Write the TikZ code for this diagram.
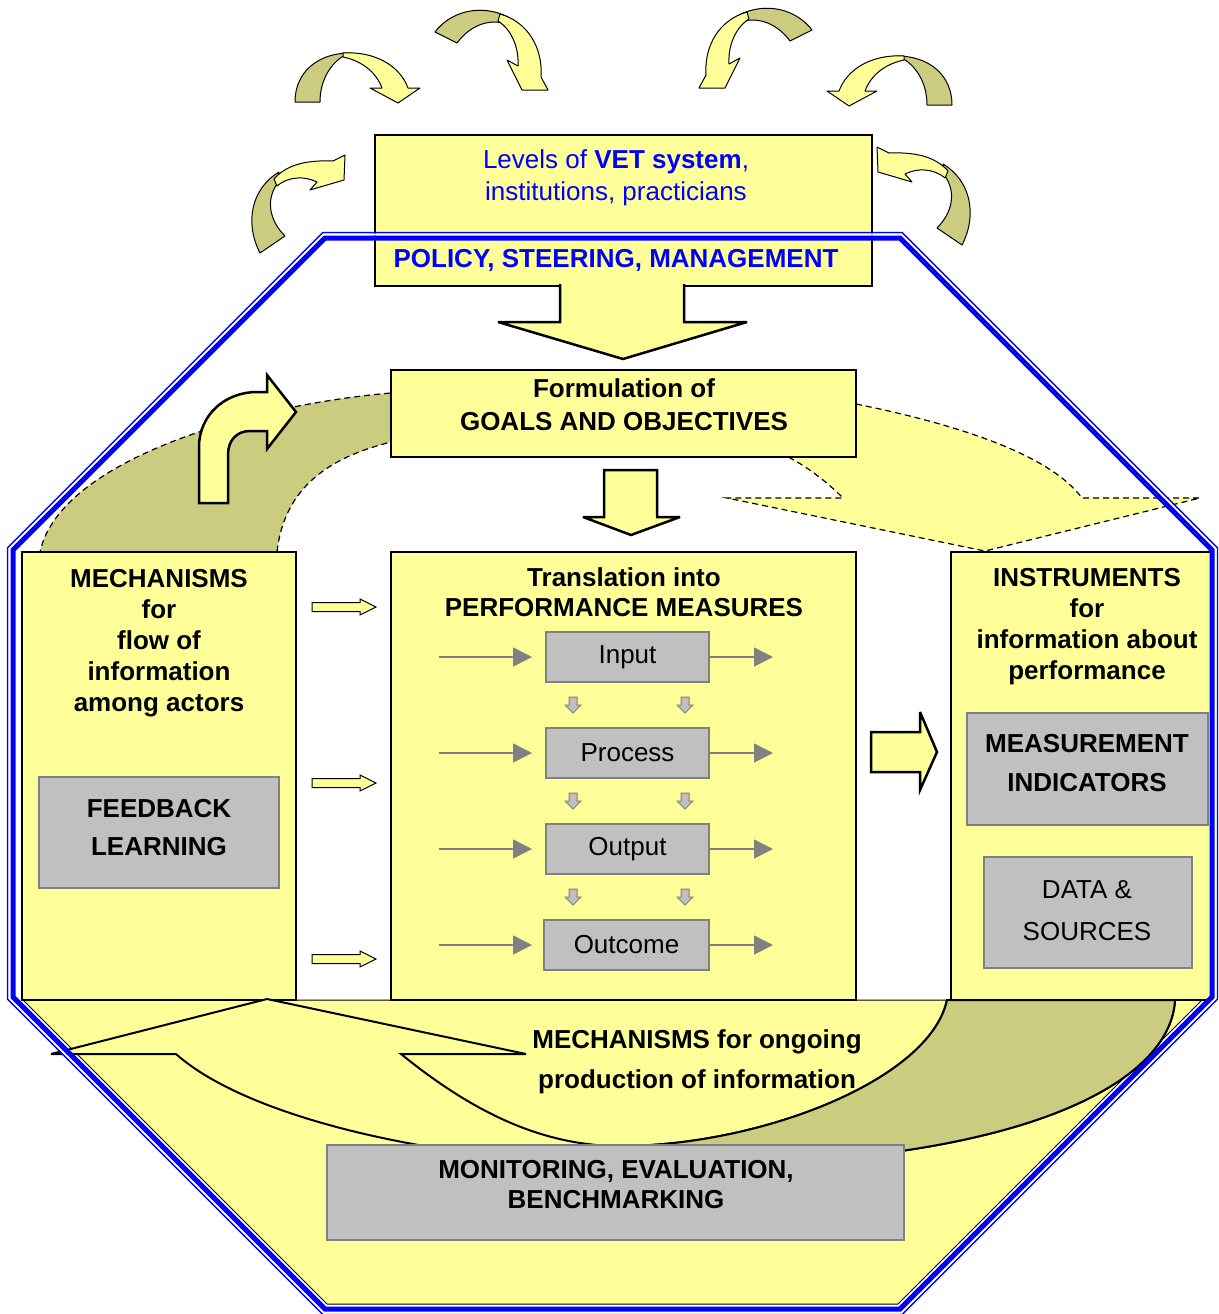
\documentclass[tikz,border=0pt]{standalone}
\usepackage{fontspec}
\setmainfont{Liberation Sans}
\usetikzlibrary{arrows.meta}
\definecolor{ylw}{RGB}{255,255,153}
\definecolor{olv}{RGB}{204,204,128}
\definecolor{gbox}{RGB}{192,192,192}
\definecolor{gline}{RGB}{128,128,128}
\definecolor{vblue}{RGB}{0,0,255}
\newcommand\bx[7]{\node[#2,anchor=north west,outer sep=0pt,inner sep=0pt,minimum width={(#5)-(#3)},minimum height={(#6)-(#4)}] (#1) at (#3,#4) {#7};}
\newcommand\setoct[1]{\pgfmathsetmacro\oL{13-#1}\pgfmathsetmacro\oR{1212+#1}\pgfmathsetmacro\oT{238-#1}\pgfmathsetmacro\oB{1309+#1}\pgfmathsetmacro\oC{312+0.586*#1}}
\newcommand\octp{({\oL+\oC},\oT) -- ({\oR-\oC},\oT) -- (\oR,{\oT+\oC}) -- (\oR,{\oB-\oC}) -- ({\oR-\oC},\oB) -- ({\oL+\oC},\oB) -- (\oL,{\oB-\oC}) -- (\oL,{\oT+\oC}) -- cycle}
\begin{document}
\begin{tikzpicture}[x=1pt,y=-1pt,line join=miter,
 box/.style={draw=black,line width=1.2pt,fill=ylw},
 topbx/.style={draw=black,line width=2.5pt,fill=ylw},
 graybox/.style={draw=gline,line width=1.5pt,fill=gbox},
 procbox/.style={draw=gline,line width=2.5pt,fill=gbox,font=\fontsize{26}{31}\selectfont},
 txt/.style={font=\fontsize{26}{#1}\selectfont,align=center,anchor=base,inner sep=0pt},
 txt/.default=31,
 btxt/.style={txt=#1,font=\fontsize{26}{#1}\selectfont\bfseries},
 btxt/.default=31,
 blk/.style={fill=ylw,draw=black,line width=2.5pt,miter limit=5},
 sblk/.style={fill=ylw,draw=black,line width=1pt},
 dsh/.style={draw=black,line width=1.2pt,dash pattern=on 6pt off 4pt},
 garrow/.style={draw=gline,line width=1.5pt,-{Triangle[length=19pt,width=19pt]}},
 rib/.style={draw=black,line width=2pt,miter limit=5},
 crv/.style={draw=black,line width=1pt,line join=round},
 gdown/.pic={\filldraw[fill=gbox,draw=gline,line width=1pt] (-4,-8) -- (4,-8) -- (4,0) -- (8,0) -- (0,8) -- (-8,0) -- (-4,0) -- cycle;},
 yright/.pic={\path[sblk] (-32,-4.5) -- (16,-4.5) -- (16,-8) -- (32,0) -- (16,8) -- (16,4.5) -- (-32,4.5) -- cycle;},
 curvA/.pic={
  \path[crv,fill=olv] (295,102) .. controls (295,72) and (318,53) .. (350,53) .. controls (335,58) and (320,76) .. (320,102) -- cycle;
  \path[crv,fill=ylw] (343,53) .. controls (375,51) and (400,66) .. (408,88) -- (420,88) -- (398,103) -- (370,88) -- (382,88) .. controls (376,72) and (362,61) .. (343,57) -- cycle;},
 curvB/.pic={
  \path[crv,fill=olv] (435,32) .. controls (450,12) and (480,3) .. (508,17) -- (503,23) .. controls (485,19) and (468,28) .. (457,43) -- cycle;
  \path[crv,fill=ylw] (500,14) .. controls (528,22) and (543,48) .. (541,77) -- (548,90) -- (522,90) -- (507,60) -- (518,66) .. controls (519,48) and (512,30) .. (498,21) -- cycle;},
 curvE/.pic={
  \path[crv,fill=olv] (260,253) .. controls (244,222) and (252,188) .. (279,172) -- (277,184) .. controls (266,200) and (269,220) .. (285,236) -- cycle;
  \path[crv,fill=ylw] (274,179) .. controls (287,164) and (308,160) .. (333,161) -- (345,155) -- (344,180) -- (310,190) -- (317,182) .. controls (305,176) and (289,176) .. (277,186) -- cycle;},
]
\useasboundingbox (0,0) rectangle (1218,1314);
\fill[white] (0,0) rectangle (1218,1314);

% bottom yellow field inside the octagon
\path[draw=black,line width=1pt,fill=ylw] (23,1000) -- (1202,1000) -- (898,1304) -- (327,1304) -- cycle;

% olive band (left) and dashed yellow arrow (right) behind the boxes
\path[dsh,fill=olv] (400,393) -- (391,393) .. controls (250,405) and (60,460) .. (40,552) -- (277,552) .. controls (285,480) and (340,455) .. (391,442) -- (400,442) -- cycle;
\path[dsh,fill=ylw] (856,404) .. controls (960,425) and (1050,455) .. (1082,498) -- (1200,498) -- (985,551) -- (727,498) -- (843,498) .. controls (830,485) and (810,468) .. (788,457) -- (788,404) -- cycle;

% curved arrows around the top
\pic {curvA};
\pic {curvB};
\pic {curvE};
\begin{scope}[shift={(1247,3)},xscale=-1]\pic[transform shape] {curvA};\end{scope}
\begin{scope}[shift={(1247,-2)},xscale=-1]\pic[transform shape] {curvB};\end{scope}
\begin{scope}[shift={(1222,-8)},xscale=-1]\pic[transform shape] {curvE};\end{scope}

% top box and its arrow
\bx{topbox}{topbx}{375}{135}{872}{286}{}
\path[blk] (560,284) -- (560,322) -- (498,322) -- (623,359) -- (747,322) -- (684,322) -- (684,284);

% goals
\bx{goals}{box}{391}{370}{856}{457}{}
\path[blk] (604,470) -- (657,470) -- (657,517) -- (680,517) -- (631,535) -- (583,517) -- (604,517) -- cycle;
\path[blk] (199,503) -- (199,447) .. controls (199,415) and (225,392) .. (257,392) -- (267,392) -- (267,375) -- (296,412) -- (267,449) -- (267,431) -- (250,431) .. controls (237,431) and (228,440) .. (228,455) -- (228,503) -- cycle;

% three columns
\bx{mech}{box}{22}{552}{296}{1000}{}
\bx{trans}{box}{391}{552}{856}{1000}{}
\bx{instr}{box}{951}{552}{1213}{1000}{}
\bx{feed}{graybox}{39}{777}{279}{888}{}
\bx{meas}{graybox}{967}{713}{1208}{825}{}
\bx{data}{graybox}{984}{857}{1192}{968}{}
\bx{inB}{procbox}{546}{632}{709}{682}{Input}
\bx{prB}{procbox}{546}{728}{709}{778}{Process}
\bx{ouB}{procbox}{546}{824}{709}{874}{Output}
\bx{ocB}{procbox}{544}{920}{709}{970}{Outcome}

\coordinate (inL) at (439,657); \coordinate (inR) at (773,657);
\coordinate (prL) at (439,753); \coordinate (prR) at (773,753);
\coordinate (ouL) at (439,849); \coordinate (ouR) at (773,849);
\coordinate (ocL) at (439,945); \coordinate (ocR) at (773,945);
\draw[garrow,shorten >=14pt] (inL) -- (inB);
\draw[garrow,shorten >=14pt] (prL) -- (prB);
\draw[garrow,shorten >=14pt] (ouL) -- (ouB);
\draw[garrow,shorten >=12pt] (ocL) -- (ocB);
\draw[garrow] (inB) -- (inR);
\draw[garrow] (prB) -- (prR);
\draw[garrow] (ouB) -- (ouR);
\draw[garrow] (ocB) -- (ocR);
\foreach \yy in {705,801,897}{\pic at (573,\yy) {gdown}; \pic at (685,\yy) {gdown};}
\foreach \yy in {607,783,959}{\pic at (344,\yy) {yright};}
\path[blk] (871,732) -- (920,732) -- (920,712) -- (937,752) -- (920,790) -- (920,772) -- (871,772) -- cycle;

% bottom ribbon arrow
\path[rib,fill=ylw] (267,999) -- (526,1054) -- (401,1054) .. controls (470,1110) and (540,1146) .. (620,1146) .. controls (760,1146) and (930,1080) .. (947,1000) -- (1175,1000) .. controls (1170,1090) and (1000,1170) .. (650,1165) .. controls (450,1165) and (250,1120) .. (176,1054) -- (51,1054) -- cycle;
\path[rib,fill=olv] (947,1000) -- (1175,1000) .. controls (1170,1090) and (1000,1170) .. (650,1165) -- (620,1146) .. controls (760,1146) and (930,1080) .. (947,1000) -- cycle;
\bx{mon}{graybox}{327}{1145}{904}{1240}{}

% texts (base anchor = baseline of the last line)
\node[txt=32,text=vblue] (levT) at (616,200) {Levels of \textbf{VET system},\\institutions, practicians};
\node[btxt,text=vblue] (polT) at (616,267) {POLICY, STEERING, MANAGEMENT};
\node[btxt=33] (goalT) at (624,430) {Formulation of\\GOALS AND OBJECTIVES};
\node[btxt] (mechT) at (159,711) {MECHANISMS\\for\\flow of\\information\\among actors};
\node[btxt=38] (feedT) at (159,855) {FEEDBACK\\LEARNING};
\node[btxt=30] (transT) at (624,616) {Translation into\\PERFORMANCE MEASURES};
\node[btxt] (instrT) at (1087,679) {INSTRUMENTS\\for\\information about\\performance};
\node[btxt=39] (measT) at (1087,791) {MEASUREMENT\\INDICATORS};
\node[txt=42] (dataT) at (1087,940) {DATA \&\\SOURCES};
\node[btxt=40] (ongT) at (697,1088) {MECHANISMS for ongoing\\production of information};
\node[btxt=30] (monT) at (616,1208) {MONITORING, EVALUATION,\\BENCHMARKING};

% blue double octagon
\setoct{5.3}\draw[vblue,line width=1.5pt] \octp;
\setoct{3.5}\draw[white,line width=2pt] \octp;
\setoct{0}\draw[vblue,line width=5pt] \octp;
\end{tikzpicture}
\end{document}
